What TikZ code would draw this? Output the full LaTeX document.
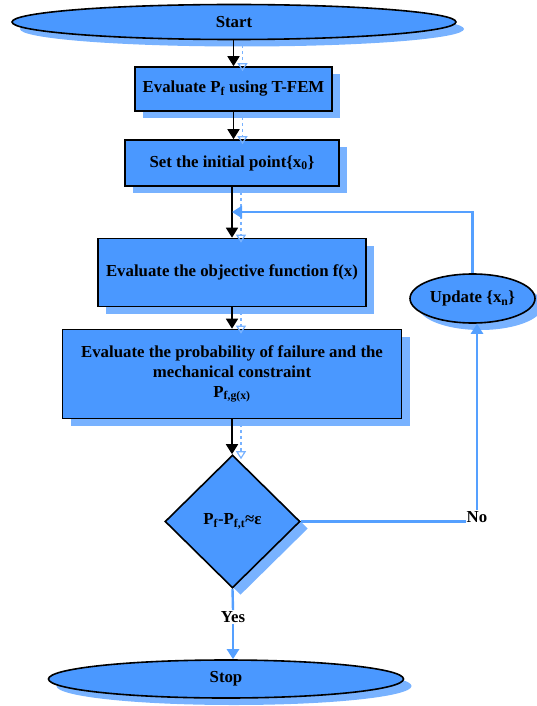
\documentclass[tikz,border=0pt]{standalone}
\usepackage{fontspec}
\setmainfont{Liberation Serif}
\usetikzlibrary{shapes.geometric,arrows.meta,shadows}
\definecolor{boxblue}{RGB}{74,152,255}
\definecolor{shblue}{RGB}{120,178,255}
\definecolor{lineblue}{RGB}{85,160,255}
\begin{document}
\begin{tikzpicture}[x=1pt,y=-1pt,
  font=\bfseries\fontsize{16.8}{20}\selectfont,
  base/.style={draw=black, line width=1.6pt, fill=boxblue, align=center, inner sep=0pt,
    general shadow={fill=shblue, shadow xshift=8pt, shadow yshift=-7pt}},
  box/.style={base, rectangle},
  term/.style={base, ellipse},
  dec/.style={base, diamond},
  flow/.style={line width=1.8pt, -{Triangle[width=12pt,length=10pt]}},
  bline/.style={draw=lineblue, line width=2.4pt},
  barrow/.style={bline, -{Triangle[width=12pt,length=10pt]}},
  sharrow/.style={draw=shblue, line width=1.2pt, dashed, -{Triangle[open,width=10pt,length=8pt]}},
  lab/.style={inner sep=1pt}]
\useasboundingbox (0,0) rectangle (536,706);

\node[term, minimum width=444pt, minimum height=35pt] (start) at (234,22) {Start};
\node[box, minimum width=197pt, minimum height=44pt] (pf) at (233.5,89) {Evaluate P\textsubscript{f} using T-FEM};
\node[box, minimum width=214pt, minimum height=46pt] (init) at (232,163) {Set the initial point\{x\textsubscript{0}\}};
\node[box, minimum width=268pt, minimum height=68pt] (obj) at (232,272.5) {Evaluate the objective function f(x)};
\node[box, minimum width=339pt, minimum height=89pt] (prob) at (232,374) {Evaluate the probability of failure and the\\ mechanical constraint\\ P\textsubscript{f,g(x)}};
\node[dec, minimum width=135pt, minimum height=133pt] (dec) at (232.5,521.5) {P\textsubscript{f}-P\textsubscript{f,t}≈ε};
\node[term, minimum width=125pt, minimum height=49pt] (upd) at (472.5,298.5) {Update \{x\textsubscript{n}\}};
\node[term, minimum width=355pt, minimum height=38pt] (stop) at (226,679) {Stop};
\node[lab] (no) at (477,517) {No};
\node[lab] (yes) at (233,617) {Yes};
\coordinate (join) at (232,212);

% connector shadows
\begin{scope}[transform canvas={shift={(9pt,-5pt)}}]
  \draw[sharrow] (start.south -| pf) -- (pf.north);
  \draw[sharrow] (pf.south) -- (pf.south |- init.north);
  \draw[sharrow] (init.south) -- (init.south |- obj.north);
  \draw[sharrow] (obj.south) -- (obj.south |- prob.north);
  \draw[sharrow] (prob.south) -- (prob.south |- dec.north);
\end{scope}

% main flow
\draw[flow] (start.south -| pf) -- (pf.north);
\draw[flow] (pf.south) -- (pf.south |- init.north);
\draw[flow] (init.south) -- (init.south |- obj.north);
\draw[flow] (obj.south) -- (obj.south |- prob.north);
\draw[flow] (prob.south) -- (prob.south |- dec.north);

% decision branches
\draw[bline] (dec.east) -- (dec.east -| no.west);
\draw[barrow] (no.north) -- (no.north |- upd.south);
\draw[barrow] (upd.north) |- (join);
\draw[bline] (dec.south) -- (yes.north);
\draw[barrow] (yes.south) -- (yes.south |- stop.north);
\end{tikzpicture}
\end{document}
